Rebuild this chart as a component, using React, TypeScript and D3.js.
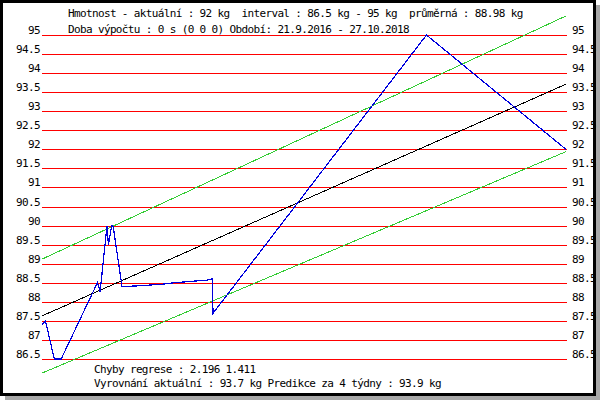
import { useEffect, useRef } from "react";
import * as d3 from "d3";

// weight measurements (date, kg)
const weighDates = [
  "2016-09-21", "2016-09-26", "2016-10-09", "2016-10-19", "2016-12-11",
  "2016-12-15", "2016-12-25", "2016-12-27", "2017-01-01", "2017-01-03",
  "2017-01-16", "2017-01-17", "2017-02-09", "2017-03-15", "2017-04-02",
  "2017-05-20", "2017-05-28", "2017-05-29", "2018-04-06", "2018-10-27",
];
const weights = [
  87.39, 87.5, 86.5, 86.5, 88.5,
  88.27, 90, 89.5, 90, 89.98,
  88.4, 88.4, 88.42, 88.46, 88.5,
  88.57, 88.6, 87.7, 95, 92,
];

// regression line and its band, at the two ends of the period
const trendDates = ["2016-09-21", "2018-10-27"];
const trendValues = [87.63, 93.71];
const upperBand = [89.12, 95.5];
const lowerBand = [86.13, 91.94];

const yTicks = [95, 94.5, 94, 93.5, 93, 92.5, 92, 91.5, 91, 90.5, 90, 89.5, 89, 88.5, 88, 87.5, 87, 86.5];

const headerLines = [
  "Hmotnost - aktuální : 92 kg  interval : 86.5 kg - 95 kg  průměrná : 88.98 kg",
  "Doba výpočtu : 0 s (0 0 0) Období: 21.9.2016 - 27.10.2018",
];
const footerLines = [
  "Chyby regrese : 2.196 1.411",
  "Vyrovnání aktuální : 93.7 kg Predikce za 4 týdny : 93.9 kg",
];

const W = 600;
const H = 400;
const FONT = "'DejaVu Sans Mono', monospace";

function App() {
  const svgRef = useRef<SVGSVGElement | null>(null);

  useEffect(() => {
    const svg: any = d3.select(svgRef.current);
    svg.selectAll("*").remove();
    const parse = d3.timeParse("%Y-%m-%d");

    const x = d3
      .scaleTime()
      .domain([parse(trendDates[0]) as Date, parse(trendDates[1]) as Date])
      .range([42, 566]);
    const y = d3.scaleLinear().domain([86.5, 95]).range([359, 35]);

    // shadow + background
    svg.append("rect").attr("x", 5).attr("y", 5).attr("width", 595).attr("height", 395).attr("fill", "#a8a8a8");
    svg.append("rect").attr("x", 0).attr("y", 0).attr("width", 596).attr("height", 396).attr("fill", "#ffffff");

    // grid lines
    svg
      .append("g")
      .selectAll("line")
      .data(yTicks)
      .enter()
      .append("line")
      .attr("x1", 42)
      .attr("x2", 567)
      .attr("y1", (d: number) => Math.round(y(d)) + 0.5)
      .attr("y2", (d: number) => Math.round(y(d)) + 0.5)
      .attr("stroke", "#ff0000")
      .attr("stroke-width", 1)
      .attr("shape-rendering", "crispEdges");

    const textStyle = (sel: any) =>
      sel
        .style("font-family", FONT)
        .style("font-size", "11px")
        .style("letter-spacing", "-0.64px")
        .style("white-space", "pre")
        .attr("fill", "#000");

    // axis labels, both sides
    svg
      .append("g")
      .selectAll("text")
      .data(yTicks)
      .enter()
      .append("text")
      .attr("x", 40)
      .attr("y", (d: number) => Math.round(y(d)) - 1)
      .attr("text-anchor", "end")
      .text((d: number) => String(d))
      .call(textStyle);
    svg
      .append("g")
      .selectAll("text")
      .data(yTicks)
      .enter()
      .append("text")
      .attr("x", 572)
      .attr("y", (d: number) => Math.round(y(d)) - 1)
      .text((d: number) => String(d))
      .call(textStyle);

    const line = d3
      .line<[Date, number]>()
      .x((d) => x(d[0]))
      .y((d) => y(d[1]));

    const ends = trendDates.map((d) => parse(d) as Date);
    const bands = [
      { v: upperBand, c: "#33cc33" },
      { v: lowerBand, c: "#33cc33" },
      { v: trendValues, c: "#000000" },
    ];
    bands.forEach((b) => {
      svg
        .append("path")
        .attr("d", line(ends.map((d, i) => [d, b.v[i]] as [Date, number])))
        .attr("fill", "none")
        .attr("stroke", b.c)
        .attr("stroke-width", 1)
        .attr("shape-rendering", "crispEdges");
    });

    const pts = weighDates.map((d, i) => [parse(d) as Date, weights[i]] as [Date, number]);
    svg
      .append("path")
      .attr("d", line(pts))
      .attr("fill", "none")
      .attr("stroke", "#0000dd")
      .attr("stroke-width", 1.2)
      .attr("shape-rendering", "crispEdges");

    headerLines.forEach((t, i) => {
      svg.append("text").attr("x", 68).attr("y", 17 + i * 16).text(t).call(textStyle);
    });
    footerLines.forEach((t, i) => {
      svg.append("text").attr("x", 94).attr("y", 373 + i * 14).text(t).call(textStyle);
    });

    // frame
    svg
      .append("rect")
      .attr("x", 1.5)
      .attr("y", 1.5)
      .attr("width", 593)
      .attr("height", 393)
      .attr("fill", "none")
      .attr("stroke", "#000")
      .attr("stroke-width", 3);
  }, []);

  return (
    <div>
      <style>{"body{margin:0}"}</style>
      <svg ref={svgRef} width={W} height={H} style={{ display: "block" }}></svg>
    </div>
  );
}

export default App;
